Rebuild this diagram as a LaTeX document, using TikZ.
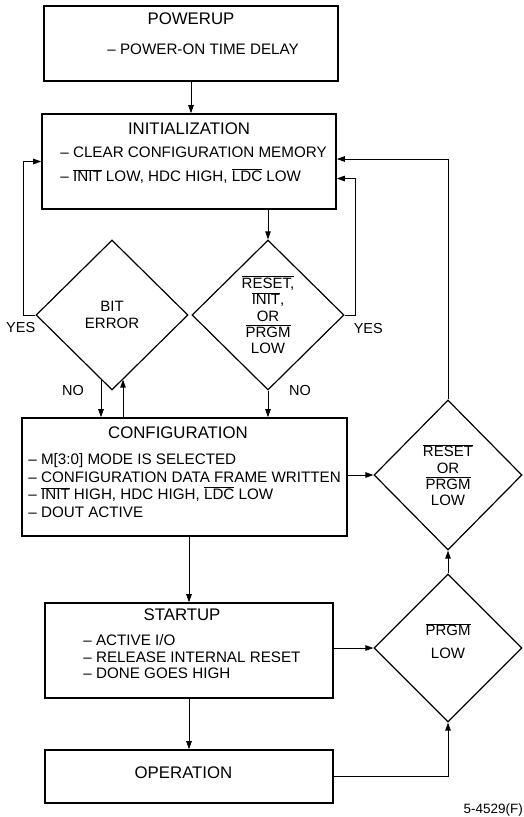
\documentclass[tikz,border=0pt]{standalone}
\usepackage{fontspec}
\setmainfont{Liberation Sans}
\usetikzlibrary{positioning, shapes.geometric, arrows.meta}
\newcommand\ovl[1]{$\overline{\hbox{#1}}$}

\begin{document}
\begin{tikzpicture}[
    x=1pt, y=-1pt,
    box/.style={rectangle, draw, line width=1.6pt, inner sep=0pt},
    decision/.style={diamond, draw, line width=1.2pt, inner sep=0pt, align=center, font=\fontsize{15}{16.3}\selectfont},
    title/.style={anchor=base, inner sep=0pt, font=\fontsize{16.8}{19}\selectfont},
    item/.style={anchor=base west, inner sep=0pt, font=\fontsize{15.2}{17}\selectfont},
    lbl/.style={inner sep=0pt, font=\fontsize{14.5}{17}\selectfont},
    arrow/.style={-{Triangle[length=8pt,width=5.5pt]}, line width=0.8pt}
]
\useasboundingbox (0,0) rectangle (523,817);

% boxes
\node[box, minimum width=294pt, minimum height=75pt] (powerup) at (191,43.5) {};
\node[title] (powerupT) at ([yshift=-19.5pt]powerup.north) {POWERUP};
\node[item] (powerup1) at ([shift={(64pt,-49.5pt)}]powerup.north west) {– POWER-ON TIME DELAY};

\node[box, minimum width=294pt, minimum height=95pt] (init) at (189,161.5) {};
\node[title] (initT) at ([yshift=-21.5pt]init.north) {INITIALIZATION};
\node[item] (init1) at ([shift={(19pt,-44.5pt)}]init.north west) {– CLEAR CONFIGURATION MEMORY};
\node[item] (init2) at ([shift={(19pt,-68.5pt)}]init.north west) {– \ovl{INIT} LOW, HDC HIGH, \ovl{LDC} LOW};

\node[box, minimum width=325pt, minimum height=118pt] (config) at (184.5,477) {};
\node[title] (configT) at ([shift={(-6.5pt,-21.5pt)}]config.north) {CONFIGURATION};
\node[item] (config1) at ([shift={(7pt,-47.5pt)}]config.north west) {– M[3:0] MODE IS SELECTED};
\node[item] (config2) at ([shift={(7pt,-65pt)}]config.north west) {– CONFIGURATION DATA FRAME WRITTEN};
\node[item] (config3) at ([shift={(7pt,-82.5pt)}]config.north west) {– \ovl{INIT} HIGH, HDC HIGH, \ovl{LDC} LOW};
\node[item] (config4) at ([shift={(7pt,-100pt)}]config.north west) {– DOUT ACTIVE};

\node[box, minimum width=288pt, minimum height=95pt] (startup) at (189,650.5) {};
\node[title] (startupT) at ([shift={(-7pt,-18.5pt)}]startup.north) {STARTUP};
\node[item] (startup1) at ([shift={(39pt,-43pt)}]startup.north west) {– ACTIVE I/O};
\node[item] (startup2) at ([shift={(39pt,-60pt)}]startup.north west) {– RELEASE INTERNAL RESET};
\node[item] (startup3) at ([shift={(39pt,-76.5pt)}]startup.north west) {– DONE GOES HIGH};

\node[box, minimum width=288pt, minimum height=53pt] (operation) at (189,776.5) {};
\node[title] (operationT) at ([shift={(-5.5pt,-29.5pt)}]operation.north) {OPERATION};

% decisions
\node[decision, minimum width=152pt, minimum height=150pt] (biterr) at (112,315) {BIT\\ERROR};
\node[decision, minimum width=152pt, minimum height=150pt] (resetq) at (268,315) {\ovl{RESET,}\\\ovl{INIT},\\OR\\\ovl{PRGM}\\LOW};
\node[decision, minimum width=148pt, minimum height=150pt] (resetprgm) at (448,475) {\ovl{RESET}\\OR\\\ovl{PRGM}\\LOW};
\node[decision, minimum width=148pt, minimum height=148pt] (prgmq) at (448,648) {\ovl{PRGM}\\[6pt]LOW\\[-2pt]\mbox{}};

% labels
\node[lbl, below left=7pt and 0pt of biterr.west] (yesL) {YES};
\node[lbl, below right=8pt and 9pt of resetq.east] (yesR) {YES};
\node[lbl, left=28pt of biterr.south] (noL) {NO};
\node[lbl, right=21pt of resetq.south] (noR) {NO};
\node[lbl, anchor=east, font=\fontsize{13.5}{15}\selectfont] (fignum) at (523,810) {5-4529(F)};

% connectors
\draw[arrow] (powerup.south) -- (powerup.south |- init.north);
\draw[arrow] (init.south -| resetq.north) -- (resetq.north);
\draw[arrow] (biterr.west) -- ++(-12,0) |- (init.west);
\draw[arrow] (resetq.east) -- ++(11,0) |- ([yshift=-17pt]init.east);
\draw[arrow] (resetprgm.north) |- ([yshift=2.5pt]init.east);
\draw[arrow] ([shift={(-11pt,11pt)}]biterr.south) -- ([xshift=-11pt]biterr.south |- config.north);
\draw[arrow] ([xshift=11pt]biterr.south |- config.north) -- ([shift={(11pt,11pt)}]biterr.south);
\draw[arrow] (resetq.south) -- (resetq.south |- config.north);
\draw[arrow] (config.east |- resetprgm.west) -- (resetprgm.west);
\draw[arrow] (startup.north |- config.south) -- (startup.north);
\draw[arrow] (startup.east |- prgmq.west) -- (prgmq.west);
\draw[arrow] (prgmq.north) -- (resetprgm.south);
\draw[arrow] (startup.south) -- (operation.north);
\draw[arrow] (operation.east) -| (prgmq.south);
\end{tikzpicture}
\end{document}
